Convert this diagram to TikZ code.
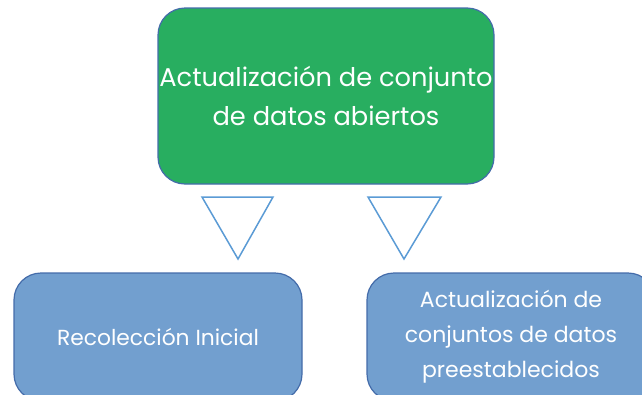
\documentclass[tikz,border=0pt]{standalone}
\usepackage{fontspec}
\setmainfont{Poppins}
\usetikzlibrary{positioning}

\definecolor{verde}{RGB}{40,174,96}
\definecolor{azulclaro}{RGB}{114,159,207}
\definecolor{borde}{RGB}{68,108,170}
\definecolor{flecha}{RGB}{91,155,213}

\begin{document}
\begin{tikzpicture}[x=1pt,y=-1pt,
	caja/.style={draw=borde,line width=1.2pt,rounded corners=27pt,text=white,align=center,inner sep=0pt},
	tri/.style={draw=flecha,line width=1.5pt,fill=white,line join=miter}]
	\useasboundingbox (0,0) rectangle (642,394);
	\clip (0,0) rectangle (642,394);
	\node[caja,fill=verde,minimum width=336pt,minimum height=176pt,font=\fontsize{25.7}{39}\selectfont] (raiz) at (326,96) {Actualización de conjunto\\de datos abiertos};
	\node[caja,fill=azulclaro,minimum width=288pt,minimum height=128pt,font=\fontsize{21.8}{35}\selectfont] (inicial) at (158,337) {Recolección Inicial};
	\node[caja,fill=azulclaro,minimum width=288pt,minimum height=128pt,font=\fontsize{22}{35}\selectfont] (preest) at (511,337) {Actualización de\\conjuntos de datos\\preestablecidos};
	\coordinate (a1) at (202,197);
	\coordinate (a2) at (273,197);
	\coordinate (a3) at (238,259);
	\coordinate (b1) at (368,197);
	\coordinate (b2) at (441,197);
	\coordinate (b3) at (404,259);
	\draw[tri] (a1) -- (a2) -- (a3) -- cycle;
	\draw[tri] (b1) -- (b2) -- (b3) -- cycle;
\end{tikzpicture}
\end{document}
